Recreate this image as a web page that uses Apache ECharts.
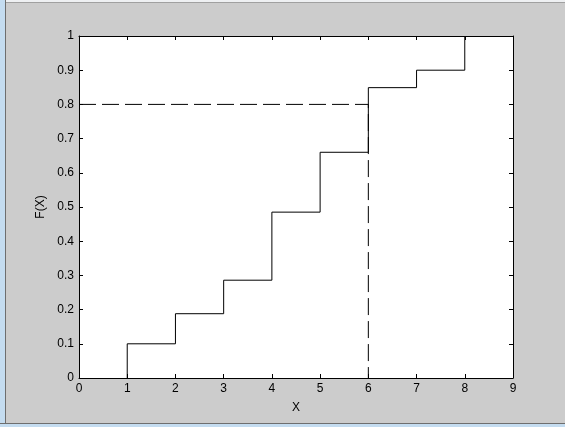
<!DOCTYPE html>
<html>
<head>
<meta charset="utf-8">
<script src="https://cdn.jsdelivr.net/npm/echarts@6/dist/echarts.min.js"></script>
<style>
  html, body { margin: 0; padding: 0; background: #cccccc; }
  #frame { position: absolute; left: 0; top: 0; width: 565px; height: 427px; overflow: hidden; }
  #topEdge { position: absolute; left: 0; top: 0; width: 565px; height: 2px; background: #eef0f2; border-bottom: 1px solid #a0a0a0; }
  #leftEdge { position: absolute; left: 0; top: 0; width: 5px; height: 427px; background: #c4dcf0; border-right: 1px solid #6e6e6e; }
  #bottomEdge { position: absolute; left: 0; top: 423px; width: 565px; height: 3px; background: #c4dcf0; border-top: 1px solid #6e6e6e; }
  #chart { position: absolute; left: 0; top: 0; width: 565px; height: 427px; }
</style>
</head>
<body>
<div id="frame">
  <div id="chart"></div>
  <div id="topEdge"></div>
  <div id="leftEdge"></div>
  <div id="bottomEdge"></div>
</div>
<script>
// empirical distribution: jump points and F(X) after each jump
var jumpX = [1, 2, 3, 4, 5, 6, 7, 8];
var cdfY = [0.1, 0.188, 0.286, 0.485, 0.66, 0.849, 0.9, 1.0];
// quantile guide (dashed)
var guideP = 0.8;
var guideX = 6;
var xTicks = [0, 1, 2, 3, 4, 5, 6, 7, 8, 9];
var yTicks = [0, 0.1, 0.2, 0.3, 0.4, 0.5, 0.6, 0.7, 0.8, 0.9, 1];

var stepData = [[jumpX[0], 0]];
for (var i = 0; i < jumpX.length; i++) {
  stepData.push([jumpX[i], cdfY[i]]);
}
var guideData = [[xTicks[0], guideP], [guideX, guideP], [guideX, 0]];

var labelFont = { color: '#000', fontSize: 12, fontFamily: 'Liberation Sans, Arial, sans-serif' };

var chart = echarts.init(document.getElementById('chart'));
chart.setOption({
  animation: false,
  backgroundColor: 'transparent',
  grid: {
    left: 79, top: 36, width: 434, height: 342,
    show: true, backgroundColor: '#ffffff', borderWidth: 0
  },
  xAxis: [{
    type: 'value', min: xTicks[0], max: xTicks[xTicks.length - 1], interval: 1,
    position: 'bottom',
    name: 'X', nameLocation: 'middle', nameGap: 24,
    nameTextStyle: labelFont,
    axisLine: { show: true, onZero: false, lineStyle: { color: '#000', width: 1 } },
    axisTick: { show: true, inside: true, length: 4, lineStyle: { color: '#000' } },
    axisLabel: Object.assign({ margin: 5 }, labelFont),
    splitLine: { show: false }
  }, {
    type: 'value', min: xTicks[0], max: xTicks[xTicks.length - 1], interval: 1,
    position: 'top',
    axisLine: { show: true, onZero: false, lineStyle: { color: '#000', width: 1 } },
    axisTick: { show: true, inside: true, length: 4, lineStyle: { color: '#000' } },
    axisLabel: { show: false },
    splitLine: { show: false }
  }],
  yAxis: [{
    type: 'value', min: yTicks[0], max: yTicks[yTicks.length - 1], interval: 0.1,
    position: 'left',
    name: 'F(X)', nameLocation: 'middle', nameGap: 32,
    nameTextStyle: labelFont,
    axisLine: { show: true, onZero: false, lineStyle: { color: '#000', width: 1 } },
    axisTick: { show: true, inside: true, length: 4, lineStyle: { color: '#000' } },
    axisLabel: Object.assign({ margin: 5, formatter: function (v) { return String(Math.round(v * 10) / 10); } }, labelFont),
    splitLine: { show: false }
  }, {
    type: 'value', min: yTicks[0], max: yTicks[yTicks.length - 1], interval: 0.1,
    position: 'right',
    axisLine: { show: true, onZero: false, lineStyle: { color: '#000', width: 1 } },
    axisTick: { show: true, inside: true, length: 4, lineStyle: { color: '#000' } },
    axisLabel: { show: false },
    splitLine: { show: false }
  }],
  series: [{
    type: 'line',
    data: stepData,
    step: 'end',
    showSymbol: false,
    silent: true,
    lineStyle: { color: '#000', width: 1 }
  }, {
    type: 'line',
    data: guideData,
    showSymbol: false,
    silent: true,
    lineStyle: { color: '#000', width: 1, type: [17, 6] }
  }]
});
</script>
</body>
</html>
